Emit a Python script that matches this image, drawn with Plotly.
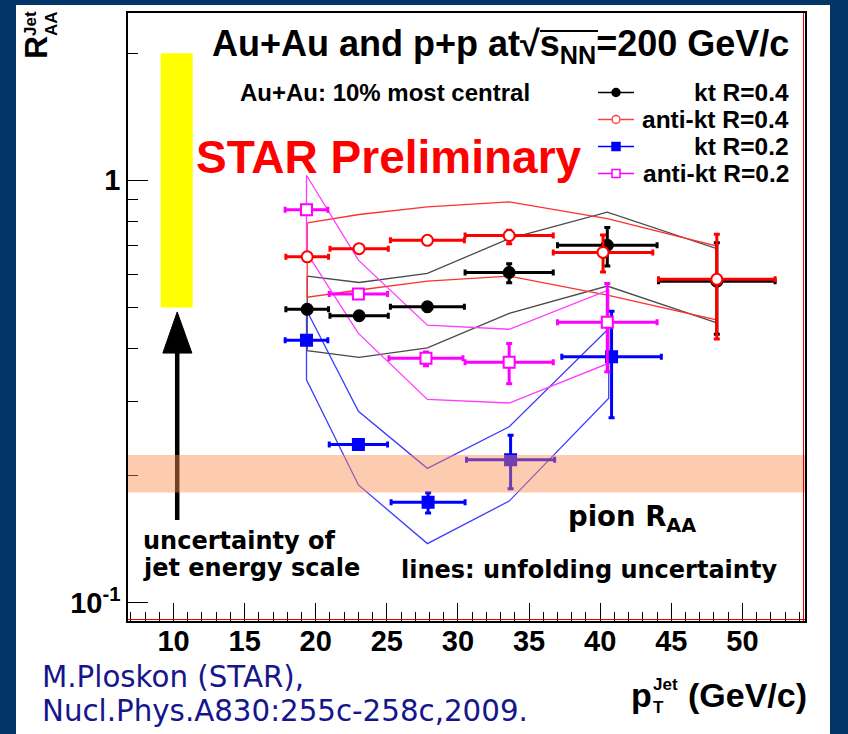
import numpy as np
import plotly.graph_objects as go

# ---------------- data ----------------
kt04_x = [19.4, 23.05, 27.85, 33.6, 40.5, 48.2]
kt04_y = [0.495, 0.478, 0.502, 0.605, 0.702, 0.577]
kt04_xerr = [1.5, 2.05, 2.6, 3.1, 3.5, 4.1]
kt04_yerr_hi = [0.010, 0.008, 0.012, 0.030, 0.071, 0.135]
kt04_yerr_lo = [0.010, 0.008, 0.012, 0.033, 0.075, 0.145]

akt04_x = [19.4, 23.05, 27.85, 33.6, 40.2, 48.2]
akt04_y = [0.659, 0.689, 0.721, 0.740, 0.675, 0.583]
akt04_xerr = [1.5, 2.05, 2.6, 3.1, 3.5, 4.1]
akt04_yerr_hi = [0.008, 0.008, 0.010, 0.022, 0.067, 0.162]
akt04_yerr_lo = [0.008, 0.008, 0.010, 0.032, 0.068, 0.162]

kt02_x = [19.35, 23.0, 27.9, 33.7, 40.8]
kt02_y = [0.418, 0.237, 0.173, 0.218, 0.382]
kt02_xerr = [1.5, 2.05, 2.6, 3.1, 3.5]
kt02_yerr_hi = [0.006, 0.004, 0.009, 0.031, 0.108]
kt02_yerr_lo = [0.006, 0.004, 0.010, 0.032, 0.108]

akt02_x = [19.35, 23.0, 27.75, 33.6, 40.5]
akt02_y = [0.852, 0.538, 0.379, 0.371, 0.461]
akt02_xerr = [1.5, 2.05, 2.6, 3.1, 3.5]
akt02_yerr_hi = [0.008, 0.006, 0.013, 0.040, 0.109]
akt02_yerr_lo = [0.008, 0.006, 0.015, 0.041, 0.109]

# unfolding-uncertainty bands (upper / lower edges)
band6_x = [19.4, 23.05, 27.85, 33.6, 40.5, 48.2]
band5_x = [19.35, 23.0, 27.85, 33.6, 40.6]
kt04_up = [0.593, 0.573, 0.602, 0.728, 0.841, 0.689]
kt04_lo = [0.395, 0.381, 0.401, 0.484, 0.562, 0.460]
akt04_up = [0.793, 0.830, 0.865, 0.889, 0.812, 0.699]
akt04_lo = [0.529, 0.550, 0.577, 0.593, 0.535, 0.467]
kt02_up = [0.493, 0.284, 0.208, 0.261, 0.446]
kt02_lo = [0.337, 0.190, 0.138, 0.174, 0.305]
akt02_up = [1.028, 0.647, 0.454, 0.444, 0.550]
akt02_lo = [0.675, 0.434, 0.303, 0.297, 0.369]

# pion R_AA band and jet-energy-scale uncertainty bar
pion_lo, pion_hi = 0.1823, 0.2238
jes_x = [9.1, 11.35]
jes_y = [0.5, 2.0]

x_ticks = [10, 15, 20, 25, 30, 35, 40, 45, 50]
y_ticks = [0.1, 1]
y_ticktext = ["10<sup>-1</sup>", "1"]
y_minor = [0.2, 0.3, 0.4, 0.5, 0.6, 0.7, 0.8, 0.9, 2]

legend_names = ["kt R=0.4", "anti-kt R=0.4", "kt R=0.2", "anti-kt R=0.2"]

# ---------------- layout geometry (pixels) ----------------
FW, FH = 848, 734
L, R, T, B = 128, 805, 13, 621
W, H = R - L, B - T


def px(x):
    return (x - L) / W


def py(y):
    return (B - y) / H


HELV = "Liberation Sans, Arial, sans-serif"
DJV = "DejaVu Sans, sans-serif"
BG = "#023668"

fig = go.Figure()


def band(xs, up, lo, color):
    xx = list(xs) + list(xs[::-1]) + [xs[0]]
    yy = list(up) + list(lo[::-1]) + [up[0]]
    fig.add_trace(go.Scatter(x=xx, y=yy, mode="lines",
                             line=dict(color=color, width=1.3),
                             hoverinfo="skip", showlegend=False))


band(band6_x, kt04_up, kt04_lo, "#4a4a4a")
band(band6_x, akt04_up, akt04_lo, "#ff3030")
band(band5_x, kt02_up, kt02_lo, "#3c3cff")
band(band5_x, akt02_up, akt02_lo, "#ff3cff")


def points(xs, ys, xe, yhi, ylo, color, symbol, fill, name):
    fig.add_trace(go.Scatter(
        x=xs, y=ys, mode="markers", name=name, showlegend=False,
        marker=dict(symbol=symbol, size=11, color=fill,
                    line=dict(color=color, width=2)),
        error_x=dict(type="data", array=xe, color=color, thickness=3, width=3),
        error_y=dict(type="data", array=yhi, arrayminus=ylo, symmetric=False,
                     color=color, thickness=3, width=3),
    ))


points(kt04_x, kt04_y, kt04_xerr, kt04_yerr_hi, kt04_yerr_lo, "black", "circle", "black", legend_names[0])
points(akt04_x, akt04_y, akt04_xerr, akt04_yerr_hi, akt04_yerr_lo, "#ff0000", "circle", "white", legend_names[1])
points(kt02_x, kt02_y, kt02_xerr, kt02_yerr_hi, kt02_yerr_lo, "#0000ff", "square", "#0000ff", legend_names[2])
points(akt02_x, akt02_y, akt02_xerr, akt02_yerr_hi, akt02_yerr_lo, "#ff00ff", "square", "white", legend_names[3])

# arrow for the jet-energy-scale uncertainty
arrow_x = 10.26
fig.add_trace(go.Scatter(x=[arrow_x, arrow_x], y=[0.157, 0.40], mode="lines",
                         line=dict(color="black", width=4.5),
                         hoverinfo="skip", showlegend=False))
fig.add_trace(go.Scatter(x=[9.25, 11.29, arrow_x, 9.25], y=[0.39, 0.39, 0.488, 0.39],
                         mode="lines", fill="toself", fillcolor="black",
                         line=dict(color="black", width=1),
                         hoverinfo="skip", showlegend=False))

shapes = []
# white slide panel
shapes.append(dict(type="rect", xref="paper", yref="paper", layer="below",
                   x0=px(16), x1=px(830), y0=py(FH + 5), y1=py(5),
                   fillcolor="white", line=dict(width=0)))
# yellow JES box
shapes.append(dict(type="rect", xref="x", yref="y", layer="below",
                   x0=jes_x[0], x1=jes_x[1], y0=jes_y[0], y1=jes_y[1],
                   fillcolor="#ffff00", line=dict(width=0)))
# pion band (semi-transparent, on top)
shapes.append(dict(type="rect", xref="paper", yref="y", layer="above",
                   x0=0, x1=1, y0=pion_lo, y1=pion_hi,
                   fillcolor="rgba(250,140,80,0.45)", line=dict(width=0)))
# thin red lines along right / bottom frame
shapes.append(dict(type="line", xref="paper", yref="paper", layer="above",
                   x0=1 - 1.5 / W, x1=1 - 1.5 / W, y0=0, y1=1,
                   line=dict(color="#e00000", width=1)))
shapes.append(dict(type="line", xref="paper", yref="paper", layer="above",
                   x0=0, x1=1, y0=1.5 / H, y1=1.5 / H,
                   line=dict(color="#e00000", width=1)))
# vinculum of the square root in the title
shapes.append(dict(type="line", xref="paper", yref="paper", layer="above",
                   x0=px(540), x1=px(598), y0=py(31), y1=py(31),
                   line=dict(color="black", width=2)))

# custom legend (symbols on the left, right-aligned text)
leg_rows = [92.5, 119.5, 146.5, 173.5]
leg_cols = ["black", "#ff4040", "#0000ff", "#ff00ff"]
for i, yr in enumerate(leg_rows):
    shapes.append(dict(type="line", xref="paper", yref="paper",
                       x0=px(598), x1=px(634), y0=py(yr), y1=py(yr),
                       line=dict(color=leg_cols[i], width=1.3)))
for i, (yr, kind, fillc) in enumerate(zip(leg_rows,
                                          ["circle", "circle", "rect", "rect"],
                                          ["black", "white", "#0000ff", "white"])):
    shapes.append(dict(type=kind, xref="paper", yref="paper",
                       xsizemode="pixel", ysizemode="pixel",
                       xanchor=px(616), yanchor=py(yr),
                       x0=-4, x1=4, y0=-4, y1=4,
                       fillcolor=fillc, line=dict(color=leg_cols[i], width=1.5)))

ann = []


def text(x, y, s, size, family=HELV, color="black", xanchor="left", bold=True, angle=0):
    ann.append(dict(xref="paper", yref="paper", x=px(x), y=py(y), text=s,
                    showarrow=False, xanchor=xanchor, yanchor="middle",
                    textangle=angle,
                    font=dict(size=size, family=family, color=color,
                              weight="bold" if bold else "normal")))


text(791, 46, "Au+Au and p+p at√s<sub>NN</sub>=200 GeV/c", 36, xanchor="right")
text(385, 93, "Au+Au: 10% most central", 24, xanchor="center")
for yr, name in zip(leg_rows, legend_names):
    text(791, yr, name, 24.5, xanchor="right")
text(194, 157, "STAR Preliminary", 46, color="#ff0000")
text(141, 541, "uncertainty of", 24, family=DJV)
text(141, 568, "jet energy scale", 24, family=DJV)
text(399, 570, "lines: unfolding uncertainty", 24, family=DJV)
text(566, 518, "pion R<sub>AA</sub>", 27.5, family=DJV)
text(40, 677, "M.Ploskon (STAR),", 29.3, family=DJV, color="#16168c", bold=False)
text(40, 711, "Nucl.Phys.A830:255c-258c,2009.", 29.3, family=DJV, color="#16168c", bold=False)
# axis titles
text(36, 47, "R", 32, xanchor="center", angle=-90)
text(31, 24, "Jet", 17, xanchor="center", angle=-90)
text(52, 24, "AA", 17, xanchor="center", angle=-90)
text(641, 695, "p", 34, xanchor="center")
text(665, 685, "Jet", 17, xanchor="center")
text(658, 707, "T", 17, xanchor="center")
text(686, 695, "(GeV/c)", 34)

fig.update_layout(
    width=FW, height=FH,
    margin=dict(l=L, r=FW - R, t=T, b=FH - B),
    paper_bgcolor=BG, plot_bgcolor="rgba(0,0,0,0)",
    shapes=shapes, annotations=ann, showlegend=False,
    xaxis=dict(range=[6.8, 54.4], showgrid=False, zeroline=False,
               showline=True, linecolor="black", linewidth=1.5, mirror=True,
               ticks="inside", ticklen=18, tickwidth=1, tickcolor="black",
               tickvals=x_ticks, ticklabelstandoff=-7,
               tickfont=dict(family=HELV, size=29, color="black", weight="bold"),
               minor=dict(dtick=1, ticks="inside", ticklen=9, tickcolor="black", tickwidth=1)),
    yaxis=dict(type="log", range=[np.log10(0.0905), np.log10(2.49)],
               showgrid=False, zeroline=False,
               showline=True, linecolor="black", linewidth=1.5, mirror=True,
               ticks="inside", ticklen=20, tickwidth=1, tickcolor="black",
               tickvals=y_ticks, ticktext=y_ticktext,
               tickfont=dict(family=HELV, size=29, color="black", weight="bold"),
               minor=dict(tickvals=y_minor, ticks="inside", ticklen=10,
                          tickcolor="black", tickwidth=1)),
)

fig.write_html("out.html")
